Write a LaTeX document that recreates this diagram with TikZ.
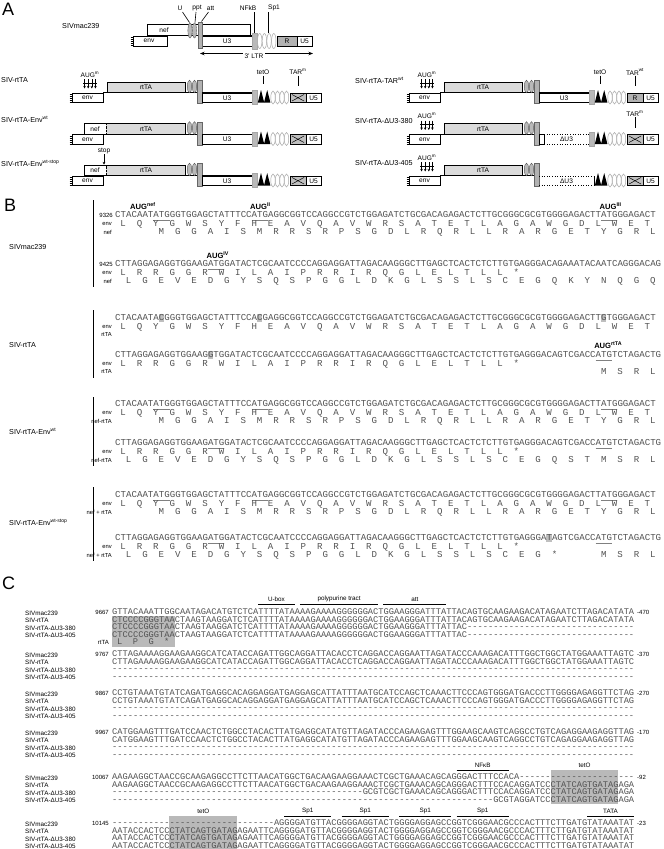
\documentclass[tikz,border=0pt]{standalone}
\usepackage{fontspec}
\setmainfont{Liberation Sans}
\setmonofont{Liberation Mono}
\usetikzlibrary{arrows.meta}
\ExplSyntaxOn
\NewExpandableDocumentCommand{\rep}{mm}{\prg_replicate:nn{#1}{#2}}
\ExplSyntaxOff
\tikzset{
 big/.style={font=\fontsize{18}{18}\selectfont, inner sep=0, anchor=north west},
 rl/.style={font=\fontsize{7.2}{8}\selectfont, inner sep=0, anchor=west},
 ctext/.style={font=\fontsize{6.6}{7}\selectfont, inner sep=0},
 boxw/.style={draw, line width=0.6pt, fill=white},
 boxg/.style={draw, line width=0.6pt, fill=gray!28},
 ellg/.style={draw=black!65, fill=gray!55, line width=0.4pt},
 ellw/.style={draw=gray!70, fill=white, line width=0.5pt},
 nfkb/.style={fill=gray!55, draw=gray!70, line width=0.3pt},
 seqB/.style={font=\ttfamily\fontsize{9.1}{9.1}\selectfont, inner sep=0, text=black!68},
 seqC/.style={font=\ttfamily\fontsize{8.7}{8.7}\selectfont, inner sep=0, text=black!68},
 smB/.style={font=\fontsize{5.8}{6}\selectfont, inner sep=0, anchor=east},
 num/.style={font=\fontsize{6}{6}\selectfont, inner sep=0, anchor=east},
 numr/.style={font=\fontsize{6}{6}\selectfont, inner sep=0, anchor=west},
 aug/.style={font=\bfseries\fontsize{7.6}{8}\selectfont, inner sep=0, anchor=base west},
 lC/.style={font=\fontsize{6.3}{7}\selectfont, inner sep=0, anchor=west},
 ul/.style={gray, line width=0.5pt},
 hl/.style={fill=gray!50},
 bar/.style={line width=0.8pt},
 tip/.style={-{Stealth[length=2.6pt,width=2.6pt]}},
}
% ---------- section B helpers
\def\xB{115}\def\cwB{5.4608}
\newcommand{\sqB}[2]{\node[seqB,anchor=base west] at (\xB,#1+2.7) {#2};}
\newcommand{\ulB}[2]{\draw[ul] ({\xB+(#2-1)*\cwB},#1+4.8) -- ({\xB+(#2+2)*\cwB},#1+4.8);}
\newcommand{\hlB}[2]{\fill[hl] ({\xB+(#2-1)*\cwB},#1-4.3) rectangle ({\xB+(#2)*\cwB},#1+4.3);}
\newcommand{\aaB}[3]{\foreach \aal [count=\aak from 0] in #3 {\node[seqB,anchor=base] at ({\xB+(#2+3*\aak-0.5)*\cwB},#1+2.7) {\aal};}}
\newcommand{\tagB}[2]{\node[smB] at (112,#1) {#2};}
% ---------- section C helpers
\def\xC{112}\def\cwC{5.2208}
\newcommand{\sqC}[2]{\node[seqC,anchor=base west] at (\xC,#1+2.6) {#2};}
\newcommand{\aaC}[3]{\foreach \aal [count=\aak from 0] in #3 {\node[seqC,anchor=base] at ({\xC+(#2+3*\aak-0.5)*\cwC},#1+2.6) {\aal};}}
\newcommand{\featC}[4]{\draw[bar] ({\xC+(#2-1)*\cwC},#1+5.2) -- ({\xC+(#3)*\cwC},#1+5.2);
 \node[lC,anchor=center] at ({\xC+(#2+#3-1)/2*\cwC},#1) {#4};}
\newcommand{\greyC}[4]{\fill[gray!55] ({\xC+(#1-1)*\cwC},#3) rectangle ({\xC+(#2)*\cwC},#4);}
\newcommand{\rlC}[2]{\node[lC] at (25,#1+1.2) {#2};}
% amino acid lists
\def\envA{L,Q,Y,G,W,S,Y,F,H,E,A,V,Q,A,V,W,R,S,A,T,E,T,L,A,G,A,W,G,D,L,W,E,T}
\def\nefA{M,G,G,A,I,S,M,R,R,S,R,P,S,G,D,L,R,Q,R,L,L,R,A,R,G,E,T,Y,G,R,L}
\def\envB{L,R,R,G,G,R,W,I,L,A,I,P,R,R,I,R,Q,G,L,E,L,T,L,L,*}
\def\nefB{L,G,E,V,E,D,G,Y,S,Q,S,P,G,G,L,D,K,G,L,S,S,L,S,C,E,G,Q,K,Y,N,Q,G,Q}
\def\rtaB{M,S,R,L}
\def\nrB{L,G,E,V,E,D,G,Y,S,Q,S,P,G,G,L,D,K,G,L,S,S,L,S,C,E,G,Q,S,T,M,S,R,L}
\def\nsB{L,G,E,V,E,D,G,Y,S,Q,S,P,G,G,L,D,K,G,L,S,S,L,S,C,E,G,*,,,M,S,R,L}
\def\rtC{L,P,G,*}
% ---------- section A construct
\newcommand{\cons}[5]{%
\begin{scope}[shift={(#1,#2)}]
\draw[line width=1.1pt] (103,10.75) -- (202,10.75);
\ifnum#3=1\relax
 \draw[boxg] (107,0) rectangle (185,10.5);
 \node[ctext] at (146,5.5) {rtTA};
\else
 \fill[gray!28] (106,0) rectangle (185,10.5);
 \draw[line width=0.6pt] (84,0) rectangle (185,10.5);
 \draw[densely dotted,line width=0.4pt] (106,0.6) -- (106,9.9);
 \node[ctext] at (95,5.5) {nef};
 \node[ctext] at (146,5.5) {rtTA};
\fi
\draw[boxw] (72,11) rectangle (103,20.5);
\node[ctext] at (87.5,16) {env};
\foreach \jj in {0,...,4} \draw[line width=0.4pt] (69.5,12.2+\jj*2) -- (72,12.2+\jj*2);
\draw[ellg] (189.5,4.5) ellipse [x radius=2.2pt,y radius=6.3pt];
\draw[ellg] (194.5,4.5) ellipse [x radius=2.2pt,y radius=6.3pt];
\draw[fill=gray!60,draw=black!60,line width=0.4pt] (197.2,-1.5) rectangle (202,21.5);
\ifcase#4\relax
 \draw[boxw] (202,11) rectangle (252,20.5); \node[ctext] at (227,16) {U3};
 \draw[line width=1.1pt] (202,10.75) -- (252,10.75);
 \draw[nfkb] (252,8.5) rectangle (257,22.5);
\or
 \draw[boxw] (202,11) rectangle (207,20.5);
 \draw[line width=1.1pt] (202,10.75) -- (207,10.75);
 \draw[dotted,line width=0.6pt] (207,11) -- (252,11) (207,20.5) -- (252,20.5);
 \node[ctext] at (229.5,16) {ΔU3};
 \draw[nfkb] (252,8.5) rectangle (257,22.5);
\or
 \draw[dotted,line width=0.6pt] (202,11) -- (257,11) (202,20.5) -- (257,20.5);
 \draw[line width=0.6pt] (257,11) -- (257,20.5);
 \node[ctext] at (229.5,16) {ΔU3};
\fi
\fill (257.8,20.5) -- (261,8) -- (264.2,20.5) -- cycle;
\fill (264,20.5) -- (267.2,8) -- (270.4,20.5) -- cycle;
\foreach \xx in {273,277.5,282,286.5} \draw[ellw] (\xx,15.5) ellipse [x radius=2.2pt,y radius=6.5pt];
\ifnum#5=0\relax
 \draw[fill=gray!50,line width=0.6pt] (290,11) rectangle (306,20.5);
 \draw[line width=0.5pt] (292,12.5) -- (304,19) (292,19) -- (304,12.5);
\else
 \draw[fill=gray!60,line width=0.6pt] (290,11) rectangle (306,20.5);
 \node[ctext] at (298,16) {R};
\fi
\draw[boxw] (306,11) rectangle (321,20.5);
\node[ctext] at (313.5,16) {U5};
\end{scope}}
\newcommand{\augm}[2]{%
 \node[ctext] at (#1,#2-7.5) {AUG\textsuperscript{m}};
 \foreach \kk in {-1.5,-0.5,0.5,1.5} \draw[line width=0.6pt,tip] (#1+\kk*3.6,#2-3) -- (#1+\kk*3.6,#2+6.5);
 \draw[line width=0.6pt] (#1-7,#2+1) -- (#1+7,#2+1);}
\newcommand{\lblline}[4]{% x, ty, text, line bottom
 \node[ctext] at (#1,#2-10) {#3};
 \draw[line width=0.6pt] (#1,#2-6.5) -- (#1,#2+#4);}
\begin{document}
\begin{tikzpicture}[x=1pt,y=-1pt]
\useasboundingbox (0,0) rectangle (664,849);
\fill[white] (0,0) rectangle (664,849);
% ================= A
\node[big] (labA) at (2,3) {A};
\node[rl] (lmac) at (62,26) {SIVmac239};
\draw[boxw] (147,24) rectangle (250,35); \node[ctext] at (164,29.8) {nef};
\draw[boxw] (133,36) rectangle (167,46); \node[ctext] at (149,41.2) {env};
\foreach \j in {0,...,4} \draw[line width=0.4pt] (130.5,37.2+\j*2) -- (133,37.2+\j*2);
\draw[boxw] (202,36) rectangle (252,46); \node[ctext] at (227,41.2) {U3};
\draw[line width=1.1pt] (202,36) -- (252,36);
\draw[ellg] (190,30.5) ellipse [x radius=2.1pt, y radius=7.5pt];
\draw[ellg] (194.5,30.5) ellipse [x radius=2.1pt, y radius=7.5pt];
\draw[fill=gray!60, draw=black!60, line width=0.4pt] (198,22) rectangle (202.5,48);
\draw[nfkb] (252,33) rectangle (257,49);
\foreach \xx in {259.7,264.4,269.1,273.8} \draw[ellw] (\xx,41) ellipse [x radius=2.2pt, y radius=7.5pt];
\draw[fill=gray!60, line width=0.6pt] (277,36) rectangle (297,46); \node[ctext] at (287,41.2) {R};
\draw[boxw] (297,36) rectangle (312,46); \node[ctext] at (304.5,41.2) {U5};
\node[ctext] (lU) at (180,8) {U};
\node[ctext] (lppt) at (197,8) {ppt};
\node[ctext] (latt) at (210.5,8) {att};
\node[ctext] (lnf) at (248,8) {NFkB};
\node[ctext] (lsp) at (274,8) {Sp1};
\draw[line width=0.6pt] (182.5,12) -- (189.5,22.5);
\draw[line width=0.6pt] (196,12) -- (195,22.5);
\draw[line width=0.6pt] (208.5,12) -- (201.5,21.5);
\draw[line width=0.6pt] (254.5,12) -- (254.5,33);
\draw[line width=0.6pt] (268,12) -- (268,33);
\draw[line width=0.7pt,{Stealth[length=4.5pt,width=3.5pt]}-{Stealth[length=4.5pt,width=3.5pt]}] (200,53.5) -- (313,53.5);
\node[ctext,fill=white,inner xsep=2pt,inner ysep=0.5pt] (lltr) at (254,56) {3' LTR};
% left column
\node[rl] (r1) at (1,80.5) {SIV-rtTA};
\cons{0}{82}{1}{0}{0}
\augm{90}{82}
\lblline{263}{82}{tetO}{1.5}
\lblline{298}{82}{TAR\textsuperscript{m}}{4}
\node[rl] (r2) at (1,119.5) {SIV-rtTA-Env\textsuperscript{wt}};
\cons{0}{123.5}{2}{0}{0}
\node[rl] (r3) at (1,163) {SIV-rtTA-Env\textsuperscript{wt-stop}};
\cons{0}{165}{2}{0}{0}
\node[ctext] (lstop) at (104,151) {stop};
\draw[line width=0.6pt,tip] (lstop.south) -- (104,164.5);
% right column
\node[rl] (r4) at (355,80.5) {SIV-rtTA-TAR\textsuperscript{wt}};
\cons{337}{82}{1}{0}{1}
\augm{427}{82}
\lblline{600}{82}{tetO}{1.5}
\lblline{635}{82}{TAR\textsuperscript{wt}}{4}
\node[rl] (r5) at (355,121.5) {SIV-rtTA-ΔU3-380};
\cons{337}{123.5}{1}{1}{0}
\augm{427}{123.5}
\lblline{635}{123.5}{TAR\textsuperscript{m}}{4}
\node[rl] (r6) at (355,163) {SIV-rtTA-ΔU3-405};
\cons{337}{165}{1}{2}{0}
\augm{427}{165}
% ================= B
\node[big] (labB) at (4,199) {B};
% block 1
\draw[bar] (93,200) -- (93,287);
\node[rl] (b1) at (9,247) {SIVmac239};
\node[aug] at (130,209.5) {AUG\textsuperscript{nef}};
\node[aug] at ({\xB+25*\cwB-1.5},209.5) {AUG\textsuperscript{II}};
\node[aug] at ({\xB+89*\cwB-1.5},209.5) {AUG\textsuperscript{III}};
\node[num] at (113,215) {9326};
\ulB{215}{8}\ulB{215}{26}\ulB{215}{90}
\sqB{215}{CTACAATATGGGTGGAGCTATTTCCATGAGGCGGTCCAGGCCGTCTGGAGATCTGCGACAGAGACTCTTGCGGGCGCGTGGGGAGACTTATGGGAGACT}
\tagB{223.5}{env}\aaB{223.5}{2}{\envA}
\tagB{232}{nef}\aaB{232}{9}{\nefA}
\node[aug] at ({\xB+17*\cwB-1.5},258) {AUG\textsuperscript{IV}};
\node[num] at (113,264) {9425};
\ulB{264}{18}
\sqB{264}{CTTAGGAGAGGTGGAAGATGGATACTCGCAATCCCCAGGAGGATTAGACAAGGGCTTGAGCTCACTCTCTTGTGAGGGACAGAAATACAATCAGGGACAG}
\tagB{272.5}{env}\aaB{272.5}{2}{\envB}
\tagB{281}{nef}\aaB{281}{3}{\nefB}
% block 2
\draw[bar] (93,310) -- (93,378);
\node[rl] (b2) at (9,345) {SIV-rtTA};
\hlB{318}{9}\hlB{318}{27}\hlB{318}{90}
\sqB{318}{CTACAATACGGGTGGAGCTATTTCCACGAGGCGGTCCAGGCCGTCTGGAGATCTGCGACAGAGACTCTTGCGGGCGCGTGGGGAGACTTGTGGGAGACT}
\tagB{326.5}{env}\aaB{326.5}{2}{\envA}
\tagB{335}{rtTA}
\node[aug] at ({\xB+88*\cwB-1.5},348.5) {AUG\textsuperscript{rtTA}};
\hlB{355}{18}\ulB{355}{89}
\sqB{355}{CTTAGGAGAGGTGGAAGGTGGATACTCGCAATCCCCAGGAGGATTAGACAAGGGCTTGAGCTCACTCTCTTGTGAGGGACAGTCGACCATGTCTAGACTG}
\tagB{363.5}{env}\aaB{363.5}{2}{\envB}
\tagB{372}{rtTA}\aaB{372}{90}{\rtaB}
% block 3
\draw[bar] (93,397) -- (93,466);
\node[rl] (b3) at (9,431) {SIV-rtTA-Env\textsuperscript{wt}};
\ulB{404}{8}\ulB{404}{26}\ulB{404}{90}
\sqB{404}{CTACAATATGGGTGGAGCTATTTCCATGAGGCGGTCCAGGCCGTCTGGAGATCTGCGACAGAGACTCTTGCGGGCGCGTGGGGAGACTTATGGGAGACT}
\tagB{412.5}{env}\aaB{412.5}{2}{\envA}
\tagB{421}{nef-rtTA}\aaB{421}{9}{\nefA}
\ulB{443}{18}\ulB{443}{89}
\sqB{443}{CTTAGGAGAGGTGGAAGATGGATACTCGCAATCCCCAGGAGGATTAGACAAGGGCTTGAGCTCACTCTCTTGTGAGGGACAGTCGACCATGTCTAGACTG}
\tagB{451.5}{env}\aaB{451.5}{2}{\envB}
\tagB{460}{nef-rtTA}\aaB{460}{3}{\nrB}
% block 4
\draw[bar] (93,487) -- (93,561);
\node[rl] (b4) at (9,522) {SIV-rtTA-Env\textsuperscript{wt-stop}};
\ulB{495}{8}\ulB{495}{26}\ulB{495}{90}
\sqB{495}{CTACAATATGGGTGGAGCTATTTCCATGAGGCGGTCCAGGCCGTCTGGAGATCTGCGACAGAGACTCTTGCGGGCGCGTGGGGAGACTTATGGGAGACT}
\tagB{503.5}{env}\aaB{503.5}{2}{\envA}
\tagB{512}{nef + rtTA}\aaB{512}{9}{\nefA}
\hlB{538}{80}\ulB{538}{18}\ulB{538}{89}
\sqB{538}{CTTAGGAGAGGTGGAAGATGGATACTCGCAATCCCCAGGAGGATTAGACAAGGGCTTGAGCTCACTCTCTTGTGAGGGATAGTCGACCATGTCTAGACTG}
\tagB{546.5}{env}\aaB{546.5}{2}{\envB}
\tagB{555}{nef + rtTA}\aaB{555}{3}{\nsB}
% ================= C
\node[big] (labC) at (2,577) {C};
% block 1
\featC{599}{29}{35}{U-box}
\featC{599}{37}{51}{polypurine tract}
\featC{599}{53}{64}{att}
\greyC{1}{12}{615.5}{646.5}
\node[num] at (109,612) {9667}; \node[numr] at (637,612) {-470};
\rlC{612}{SIVmac239}\sqC{612}{GTTACAAATTGGCAATAGACATGTCTCATTTTATAAAAGAAAAGGGGGGACTGGAAGGGATTTATTACAGTGCAAGAAGACATAGAATCTTAGACATATA}
\rlC{619.5}{SIV-rtTA}\sqC{619.5}{CTCCCCGGGTAACTAAGTAAGGATCTCATTTTATAAAAGAAAAGGGGGGACTGGAAGGGATTTATTACAGTGCAAGAAGACATAGAATCTTAGACATATA}
\rlC{627}{SIV-rtTA-ΔU3-380}\sqC{627}{CTCCCCGGGTAACTAAGTAAGGATCTCATTTTATAAAAGAAAAGGGGGGACTGGAAGGGATTTATTAC\rep{32}{-}}
\rlC{634.5}{SIV-rtTA-ΔU3-405}\sqC{634.5}{CTCCCCGGGTAACTAAGTAAGGATCTCATTTTATAAAAGAAAAGGGGGGACTGGAAGGGATTTATTAC\rep{32}{-}}
\node[num] at (109,642) {rtTA}; \aaC{642}{2}{\rtC}
% block 2
\node[num] at (109,654) {9767}; \node[numr] at (637,654) {-370};
\rlC{654}{SIVmac239}\sqC{654}{CTTAGAAAAGGAAGAAGGCATCATACCAGATTGGCAGGATTACACCTCAGGACCAGGAATTAGATACCCAAAGACATTTGGCTGGCTATGGAAATTAGTC}
\rlC{661.5}{SIV-rtTA}\sqC{661.5}{CTTAGAAAAGGAAGAAGGCATCATACCAGATTGGCAGGATTACACCTCAGGACCAGGAATTAGATACCCAAAGACATTTGGCTGGCTATGGAAATTAGTC}
\rlC{669}{SIV-rtTA-ΔU3-380}\sqC{669}{\rep{100}{-}}
\rlC{676.5}{SIV-rtTA-ΔU3-405}\sqC{676.5}{\rep{100}{-}}
% block 3
\node[num] at (109,693) {9867}; \node[numr] at (637,693) {-270};
\rlC{693}{SIVmac239}\sqC{693}{CCTGTAAATGTATCAGATGAGGCACAGGAGGATGAGGAGCATTATTTAATGCATCCAGCTCAAACTTCCCAGTGGGATGACCCTTGGGGAGAGGTTCTAG}
\rlC{700.5}{SIV-rtTA}\sqC{700.5}{CCTGTAAATGTATCAGATGAGGCACAGGAGGATGAGGAGCATTATTTAATGCATCCAGCTCAAACTTCCCAGTGGGATGACCCTTGGGGAGAGGTTCTAG}
\rlC{708}{SIV-rtTA-ΔU3-380}\sqC{708}{\rep{100}{-}}
\rlC{715.5}{SIV-rtTA-ΔU3-405}\sqC{715.5}{\rep{100}{-}}
% block 4
\node[num] at (109,732) {9967}; \node[numr] at (637,732) {-170};
\rlC{732}{SIVmac239}\sqC{732}{CATGGAAGTTTGATCCAACTCTGGCCTACACTTATGAGGCATATGTTAGATACCCAGAAGAGTTTGGAAGCAAGTCAGGCCTGTCAGAGGAAGAGGTTAG}
\rlC{739.5}{SIV-rtTA}\sqC{739.5}{CATGGAAGTTTGATCCAACTCTGGCCTACACTTATGAGGCATATGTTAGATACCCAGAAGAGTTTGGAAGCAAGTCAGGCCTGTCAGAGGAAGAGGTTAG}
\rlC{747}{SIV-rtTA-ΔU3-380}\sqC{747}{\rep{100}{-}}
\rlC{754.5}{SIV-rtTA-ΔU3-405}\sqC{754.5}{\rep{100}{-}}
% block 5
\featC{765}{67}{76}{NFκB}
\greyC{85}{97}{769.5}{803.5}
\node[lC,anchor=center] at ({\xC+90.5*\cwC},765) {tetO};
\node[num] at (109,777) {10067}; \node[numr] at (637,777) {-92};
\rlC{777}{SIVmac239}\sqC{777}{AAGAAGGCTAACCGCAAGAGGCCTTCTTAACATGGCTGACAAGAAGGAAACTCGCTGAAACAGCAGGGACTTTCCACA\rep{22}{-}}
\rlC{784.5}{SIV-rtTA}\sqC{784.5}{AAGAAGGCTAACCGCAAGAGGCCTTCTTAACATGGCTGACAAGAAGGAAACTCGCTGAAACAGCAGGGACTTTCCACAGGATCCCTATCAGTGATAGAGA}
\rlC{792}{SIV-rtTA-ΔU3-380}\sqC{792}{\rep{48}{-}GCGTCGCTGAAACAGCAGGGACTTTCCACAGGATCCCTATCAGTGATAGAGA}
\rlC{799.5}{SIV-rtTA-ΔU3-405}\sqC{799.5}{\rep{73}{-}GCGTAGGATCCCTATCAGTGATAGAGA}
% block 6
\greyC{12}{24}{815.5}{849}
\node[lC,anchor=center] at ({\xC+17.5*\cwC},811) {tetO};
\featC{811}{34}{42}{Sp1}
\featC{811}{45}{53}{Sp1}
\featC{811}{56}{65}{Sp1}
\featC{811}{67}{76}{Sp1}
\featC{811}{92}{100}{TATA}
\node[num] at (109,823) {10145}; \node[numr] at (637,823) {-23};
\rlC{823}{SIVmac239}\sqC{823}{\rep{31}{-}AGGGGATGTTACGGGGAGGTACTGGGGAGGAGCCGGTCGGGAACGCCCACTTTCTTGATGTATAAATAT}
\rlC{830.5}{SIV-rtTA}\sqC{830.5}{AATACCACTCCCTATCAGTGATAGAGAATTCAGGGGATGTTACGGGGAGGTACTGGGGAGGAGCCGGTCGGGAACGCCCACTTTCTTGATGTATAAATAT}
\rlC{838}{SIV-rtTA-ΔU3-380}\sqC{838}{AATACCACTCCCTATCAGTGATAGAGAATTCAGGGGATGTTACGGGGAGGTACTGGGGAGGAGCCGGTCGGGAACGCCCACTTTCTTGATGTATAAATAT}
\rlC{845.5}{SIV-rtTA-ΔU3-405}\sqC{845.5}{AATACCACTCCCTATCAGTGATAGAGAATTCAGGGGATGTTACGGGGAGGTACTGGGGAGGAGCCGGTCGGGAACGCCCACTTTCTTGATGTATAAATAT}
\end{tikzpicture}
\end{document}
